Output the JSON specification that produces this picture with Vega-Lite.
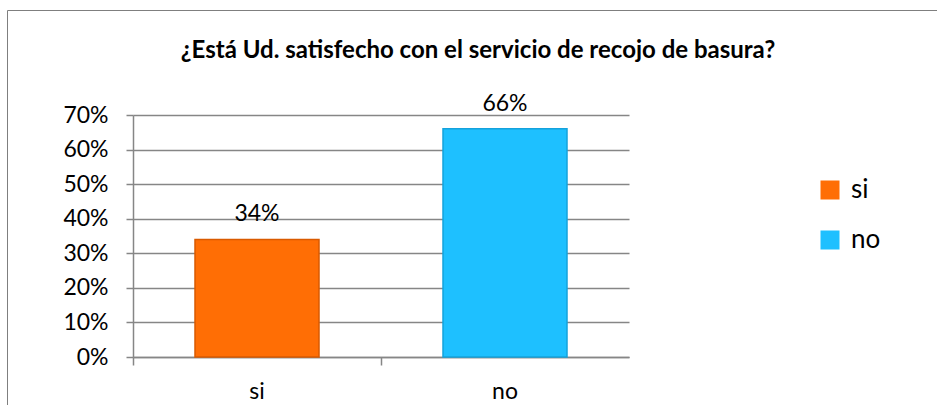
{
  "$schema": "https://vega.github.io/schema/vega-lite/v6.json",
  "width": 496,
  "height": 242,
  "autosize": {"type": "none"},
  "padding": {"left": 133, "top": 115, "right": 308, "bottom": 48},
  "background": "white",
  "title": {
    "text": "¿Está  Ud.  satisfecho con el servicio de recojo de basura?",
    "font": "Lato",
    "fontSize": 24,
    "fontWeight": "bold",
    "color": "black",
    "anchor": "middle",
    "frame": "group",
    "dx": 97,
    "offset": -53
  },
  "data": {
    "values": [
      {"respuesta": "si", "porcentaje": 0.34},
      {"respuesta": "no", "porcentaje": 0.66}
    ]
  },
  "encoding": {
    "x": {
      "field": "respuesta",
      "type": "nominal",
      "sort": ["si", "no"],
      "scale": {"paddingInner": 0, "paddingOuter": 0},
      "axis": {
        "title": null,
        "labelAngle": 0,
        "labelFont": "Lato",
        "labelFontSize": 23,
        "labelColor": "black",
        "labelPadding": 15,
        "bandPosition": 0,
        "tickSize": 8,
        "tickColor": "#868686",
        "domainColor": "#868686",
        "domainWidth": 1.5,
        "tickWidth": 1.5,
        "grid": false
      }
    },
    "y": {
      "field": "porcentaje",
      "type": "quantitative",
      "scale": {"domain": [0, 0.7], "nice": false},
      "axis": {
        "title": null,
        "format": ".0%",
        "values": [0, 0.1, 0.2, 0.3, 0.4, 0.5, 0.6, 0.7],
        "labelFont": "Lato",
        "labelFontSize": 23,
        "labelColor": "black",
        "labelPadding": 18,
        "tickSize": 7,
        "tickColor": "#868686",
        "tickWidth": 1.5,
        "domainColor": "#868686",
        "domainWidth": 1.5,
        "gridColor": "#868686",
        "gridWidth": 1.5
      }
    }
  },
  "layer": [
    {
      "mark": {"type": "bar", "width": {"band": 0.5}, "strokeWidth": 1.5},
      "encoding": {
        "color": {
          "field": "respuesta",
          "type": "nominal",
          "sort": ["si", "no"],
          "scale": {"domain": ["si", "no"], "range": ["#FF6E05", "#1EC0FF"]},
          "legend": {
            "title": null,
            "orient": "none",
            "legendX": 684,
            "legendY": 62,
            "symbolType": "square",
            "symbolSize": 361,
            "symbolStrokeWidth": 0,
            "labelFont": "Lato",
            "labelFontSize": 26,
            "labelColor": "black",
            "labelOffset": 8,
            "rowPadding": 24
          }
        },
        "stroke": {
          "field": "respuesta",
          "type": "nominal",
          "scale": {"domain": ["si", "no"], "range": ["#D95A00", "#14A2DC"]},
          "legend": null
        },
        "opacity": {
          "datum": "marco",
          "type": "nominal",
          "scale": {"range": [1]},
          "legend": {
            "title": null,
            "orient": "none",
            "legendX": -126,
            "legendY": -105,
            "padding": 480,
            "strokeColor": "#7F7F7F",
            "symbolOpacity": 0,
            "symbolSize": 16,
            "labelExpr": "''"
          }
        }
      }
    },
    {
      "mark": {"type": "text", "baseline": "alphabetic", "dy": -18, "font": "Lato", "fontSize": 23, "color": "black"},
      "encoding": {
        "text": {"field": "porcentaje", "type": "quantitative", "format": ".0%"}
      }
    }
  ],
  "config": {"view": {"stroke": null}}
}
